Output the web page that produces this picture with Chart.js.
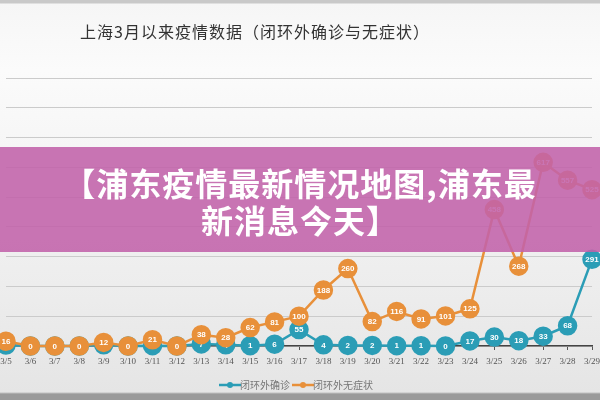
<!DOCTYPE html>
<html>
<head>
<meta charset="utf-8">
<script src="https://cdn.jsdelivr.net/npm/chart.js@4/dist/chart.umd.min.js"></script>
<style>
  html, body { margin: 0; padding: 0; }
  body {
    width: 600px; height: 400px; overflow: hidden; position: relative;
    background: linear-gradient(#c9c9c9 0, #c9c9c9 3px, #f6f6f6 4px, #fbfbfb 70px, #ececec 300px, #e5e5e5 392px, #9a9a9a 394px, #9a9a9a 400px);
  }
  #wrap { position: absolute; left: 0; top: 0; width: 600px; height: 400px; }
  #title {
    position: absolute; left: 80px; top: 19px; width: 360px;
    font-family: "Noto Sans CJK SC"; font-size: 16px; color: #333;
    letter-spacing: 1px; white-space: nowrap;
  }
  #banner {
    position: absolute; left: 0; top: 147px; width: 600px; height: 105px;
    background: rgba(194, 98, 170, 0.88);
    color: #fff; font-family: "Noto Sans CJK SC"; font-weight: bold;
    font-size: 32px; line-height: 37px; text-align: center;
    box-sizing: border-box; padding: 17px 20px 0 20px; letter-spacing: 1px;
  }
</style>
</head>
<body>
<div id="wrap"><canvas id="chart" width="600" height="400"></canvas></div>
<div id="title">上海3月以来疫情数据（闭环外确诊与无症状）</div>
<div id="banner">【浦东疫情最新情况地图,浦东最<br>新消息今天】</div>
<script>
const dates = ["3/5", "3/6", "3/7", "3/8", "3/9", "3/10", "3/11", "3/12", "3/13", "3/14",
    "3/15", "3/16", "3/17", "3/18", "3/19", "3/20", "3/21", "3/22", "3/23", "3/24",
    "3/25", "3/26", "3/27", "3/28", "3/29"];
const confirmed = [3, 0, 0, 0, 4, 0, 1, 0, 7, 4, 1, 6, 55, 4, 2, 2, 1, 1, 0, 17, 30, 18, 33, 68, 291];
const asymptomatic = [16, 0, 0, 0, 12, 0, 21, 0, 38, 28, 62, 81, 100, 188, 260, 82, 116, 91, 101, 125,
    458, 268, 617, 557, 525];
const yTicks = [0, 100, 200, 300, 400, 500, 600, 700, 800, 900];

const blue = "#2b9db6";
const orange = "#e8903a";

// little line-with-dot swatch for the legend
function swatch(color) {
    const c = document.createElement("canvas");
    c.width = 22; c.height = 8;
    const g = c.getContext("2d");
    g.strokeStyle = color; g.lineWidth = 2.5;
    g.beginPath(); g.moveTo(0, 4); g.lineTo(22, 4); g.stroke();
    g.fillStyle = color;
    g.beginPath(); g.arc(11, 4, 3, 0, Math.PI * 2); g.fill();
    return c;
}

// white numbers inside the markers, drawn right after each dataset
const valueLabels = {
    id: "valueLabels",
    afterDatasetDraw(chart, args) {
        const ctx = chart.ctx;
        const ds = chart.data.datasets[args.index];
        ctx.save();
        ctx.font = "bold 8px 'Liberation Sans'";
        ctx.fillStyle = "#fff";
        ctx.textAlign = "center";
        ctx.textBaseline = "middle";
        args.meta.data.forEach((pt, i) => {
            ctx.fillText(ds.data[i], pt.x, pt.y + 0.5);
        });
        ctx.restore();
    }
};

new Chart(document.getElementById("chart"), {
    type: "line",
    data: {
        labels: dates,
        datasets: [
            {
                label: "闭环外无症状",
                data: asymptomatic,
                borderColor: orange,
                backgroundColor: orange,
                pointBackgroundColor: orange,
                pointBorderColor: orange,
                borderWidth: 2.5,
                pointRadius: 8.5,
                clip: false
            },
            {
                label: "闭环外确诊",
                data: confirmed,
                borderColor: blue,
                backgroundColor: blue,
                pointBackgroundColor: blue,
                pointBorderColor: blue,
                borderWidth: 2.5,
                pointRadius: 8.5,
                clip: false
            }
        ]
    },
    options: {
        responsive: false,
        animation: false,
        layout: { autoPadding: false, padding: { top: 78, left: 6, right: 8, bottom: 0 } },
        scales: {
            x: {
                offset: false,
                grid: { drawOnChartArea: false, drawTicks: true, tickLength: 4, color: "#555" },
                border: { color: "#444", width: 1.5 },
                ticks: {
                    color: "#555", font: { size: 9, family: "Liberation Serif" },
                    maxRotation: 0, autoSkip: false, padding: 6
                },
                afterFit(scale) {
                    scale.height = 26;
                    // the original is cropped at both ends, so let the end labels run off
                    scale.paddingLeft = 0;
                    scale.paddingRight = 0;
                }
            },
            y: {
                min: 0,
                max: 900,
                afterBuildTicks(scale) { scale.ticks = yTicks.map(v => ({ value: v })); },
                ticks: { display: false },
                grid: { color: "#cbcbcb", lineWidth: 1, drawTicks: false },
                border: { display: false },
                afterFit(scale) {
                    scale.width = 0;
                    scale.paddingTop = 0;
                    scale.paddingBottom = 0;
                }
            }
        },
        plugins: {
            legend: {
                position: "bottom",
                reverse: true,
                labels: {
                    color: "#777",
                    font: { size: 10, family: "Noto Sans CJK SC" },
                    usePointStyle: true,
                    padding: 8,
                    generateLabels(chart) {
                        const items = Chart.defaults.plugins.legend.labels.generateLabels(chart);
                        items.forEach(it => {
                            it.pointStyle = swatch(chart.data.datasets[it.datasetIndex].borderColor);
                        });
                        return items;
                    }
                }
            },
            tooltip: { enabled: false }
        }
    },
    plugins: [valueLabels]
});
</script>
</body>
</html>
